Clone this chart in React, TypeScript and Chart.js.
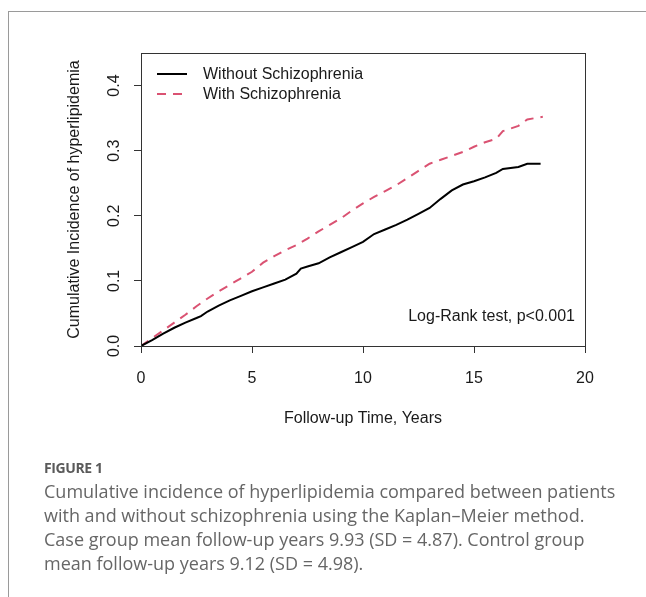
import React, { useEffect, useRef } from "react";
import { Chart, registerables } from "chart.js";

Chart.register(...registerables);

const seriesNames = ["Without Schizophrenia", "With Schizophrenia"];

const withoutTimes = [0, 0.5, 1, 1.5, 2, 2.5, 2.7, 3, 3.5, 4, 4.5, 5, 5.5, 6, 6.5, 7, 7.2, 7.5, 8, 8.5, 9, 9.5, 10, 10.5, 11, 11.5, 12, 12.5, 13, 13.5, 14, 14.5, 15, 15.5, 16, 16.3, 17, 17.4, 18];
const withoutValues = [0, 0.009, 0.019, 0.028, 0.036, 0.043, 0.046, 0.053, 0.062, 0.07, 0.077, 0.084, 0.09, 0.096, 0.102, 0.111, 0.119, 0.122, 0.127, 0.136, 0.144, 0.152, 0.16, 0.172, 0.179, 0.186, 0.194, 0.203, 0.212, 0.226, 0.239, 0.248, 0.253, 0.259, 0.266, 0.272, 0.275, 0.28, 0.28];

const withTimes = [0, 0.5, 1, 1.5, 2, 2.5, 3, 3.5, 4, 4.5, 5, 5.5, 6, 6.5, 7, 7.5, 8, 8.5, 9, 9.5, 10, 10.5, 11, 11.5, 12, 12.5, 13, 13.5, 14, 14.5, 15, 15.5, 16, 16.3, 17, 17.4, 18.1];
const withValues = [0, 0.012, 0.024, 0.036, 0.048, 0.061, 0.073, 0.084, 0.094, 0.104, 0.114, 0.128, 0.138, 0.147, 0.155, 0.165, 0.176, 0.186, 0.196, 0.208, 0.219, 0.229, 0.238, 0.247, 0.258, 0.269, 0.28, 0.286, 0.292, 0.298, 0.306, 0.313, 0.318, 0.33, 0.338, 0.348, 0.352];

const xTicks = [0, 5, 10, 15, 20];
const yTicks = [0, 0.1, 0.2, 0.3, 0.4];

const xTitle = "Follow-up Time, Years";
const yTitle = "Cumulative Incidence of hyperlipidemia";
const annotation = "Log-Rank test, p<0.001";

const captionLabel = "FIGURE 1";
const captionLines = [
  "Cumulative incidence of hyperlipidemia compared between patients",
  "with and without schizophrenia using the Kaplan\u2013Meier method.",
  "Case group mean follow-up years 9.93 (SD = 4.87). Control group",
  "mean follow-up years 9.12 (SD = 4.98).",
];

const FONT = "'Liberation Sans', Arial, sans-serif";
const TEXT = "#1a1a1a";
const RED = "#DA5272";
const RED_DASH = [9, 7];

const overlayPlugin = {
  id: "overlay",
  afterDatasetsDraw(chart: any) {
    const { ctx, chartArea } = chart;
    const { left, top, right, bottom } = chartArea;
    ctx.save();
    ctx.strokeStyle = "#333";
    ctx.lineWidth = 1;
    ctx.setLineDash([]);
    ctx.strokeRect(left + 0.5, top + 0.5, right - left, bottom - top);
    const lx0 = left + 16;
    const lx1 = left + 46;
    const ly0 = top + 21;
    const ly1 = top + 41;
    ctx.lineWidth = 2;
    ctx.strokeStyle = "#000";
    ctx.beginPath();
    ctx.moveTo(lx0, ly0);
    ctx.lineTo(lx1, ly0);
    ctx.stroke();
    ctx.strokeStyle = RED;
    ctx.setLineDash(RED_DASH);
    ctx.beginPath();
    ctx.moveTo(lx0, ly1);
    ctx.lineTo(lx1, ly1);
    ctx.stroke();
    ctx.setLineDash([]);
    ctx.fillStyle = TEXT;
    ctx.font = `16px ${FONT}`;
    ctx.textAlign = "left";
    ctx.textBaseline = "middle";
    ctx.fillText(seriesNames[0], left + 62, ly0 + 1);
    ctx.fillText(seriesNames[1], left + 62, ly1 + 1);
    ctx.textAlign = "right";
    ctx.fillText(annotation, right - 10, bottom - 29);
    ctx.restore();
  },
};

export default function App() {
  const ref = useRef<HTMLCanvasElement | null>(null);
  useEffect(() => {
    if (!ref.current) return;
    const chart = new Chart(ref.current, {
      type: "line",
      data: {
        datasets: [
          {
            label: seriesNames[0],
            data: withoutTimes.map((t, i) => ({ x: t, y: withoutValues[i] })),
            borderColor: "#000",
            borderWidth: 2,
            pointRadius: 0,
            tension: 0,
            fill: false,
          },
          {
            label: seriesNames[1],
            data: withTimes.map((t, i) => ({ x: t, y: withValues[i] })),
            borderColor: RED,
            borderWidth: 2,
            borderDash: RED_DASH,
            pointRadius: 0,
            tension: 0,
            fill: false,
          },
        ],
      },
      options: {
        animation: false,
        responsive: true,
        maintainAspectRatio: false,
        layout: { padding: { left: 0, top: 53, right: 61, bottom: 0 } },
        plugins: { legend: { display: false }, tooltip: { enabled: false } },
        scales: {
          x: {
            type: "linear",
            min: 0,
            max: 20,
            afterBuildTicks: (scale: any) => {
              scale.ticks = xTicks.map((v) => ({ value: v }));
            },
            afterFit: (scale: any) => {
              scale.height = 94;
            },
            grid: { drawOnChartArea: false, drawTicks: true, tickLength: 7, tickColor: "#333", tickWidth: 1 },
            border: { display: false },
            ticks: { color: TEXT, font: { family: FONT, size: 16 }, padding: 16, maxRotation: 0, minRotation: 0 },
            title: { display: true, text: xTitle, color: TEXT, font: { family: FONT, size: 16 }, padding: { top: 0, bottom: 12 } },
          },
          y: {
            type: "linear",
            min: 0,
            max: 0.45,
            afterBuildTicks: (scale: any) => {
              scale.ticks = yTicks.map((v) => ({ value: v }));
            },
            afterFit: (scale: any) => {
              scale.width = 141;
            },
            grid: { drawOnChartArea: false, drawTicks: true, tickLength: 7, tickColor: "#333", tickWidth: 1 },
            border: { display: false },
            ticks: {
              color: TEXT,
              font: { family: FONT, size: 16 },
              padding: 8,
              minRotation: 90,
              maxRotation: 90,
              crossAlign: "center",
              callback: (v: any) => Number(v).toFixed(1),
            },
            title: { display: true, text: yTitle, color: TEXT, font: { family: FONT, size: 16 }, padding: { top: 65, bottom: 0 } },
          },
        },
      } as any,
      plugins: [overlayPlugin],
    });
    return () => chart.destroy();
  }, []);

  return (
    <div>
      <div
        style={{
          position: "fixed",
          left: 8,
          top: 11,
          right: 0,
          bottom: 0,
          borderTop: "1px solid #9a9a9a",
          borderLeft: "1px solid #9a9a9a",
        }}
      />
      <div style={{ position: "fixed", left: 0, top: 0, width: 646, height: 440 }}>
        <canvas ref={ref} />
      </div>
      <div
        style={{
          position: "fixed",
          left: 44,
          top: 458,
          fontFamily: "'Open Sans', 'Noto Sans', sans-serif",
          color: "#666",
          whiteSpace: "nowrap",
        }}
      >
        <div style={{ fontSize: 14, lineHeight: "20px", fontWeight: 700, letterSpacing: -0.4, color: "#5a5a5a" }}>{captionLabel}</div>
        <div style={{ fontSize: 18, lineHeight: "24px", marginTop: 1, fontWeight: 400 }}>
          {captionLines.map((l, i) => (
            <div key={i}>{l}</div>
          ))}
        </div>
      </div>
    </div>
  );
}
